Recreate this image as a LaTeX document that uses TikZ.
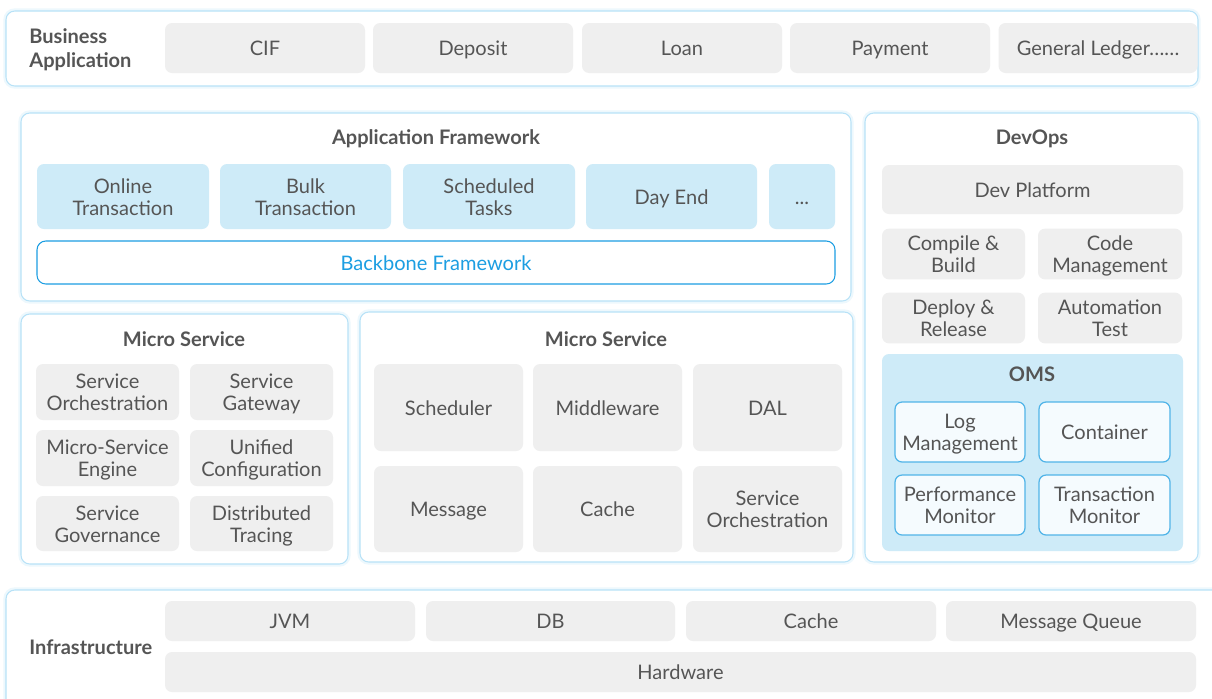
\documentclass[tikz,border=0pt]{standalone}
\usepackage{fontspec}
\setmainfont{Lato}
\definecolor{txtgray}{RGB}{85,85,85}
\definecolor{cellgray}{RGB}{239,239,239}
\definecolor{frameblue}{RGB}{184,226,247}
\definecolor{cellblue}{RGB}{206,235,248}
\definecolor{accentblue}{RGB}{28,158,226}
\definecolor{omsline}{RGB}{80,180,232}
\definecolor{omsfill}{RGB}{245,251,254}
\usetikzlibrary{positioning}

\begin{document}
\begin{tikzpicture}[x=0.02cm, y=-0.02cm,
  every node/.style={font=\fontsize{11.4}{12.6}\selectfont, text=txtgray, align=center, inner sep=0pt,
    execute at begin node={\rule{0pt}{12.5pt}}, execute at end node=\strut},
  twoline/.style={execute at begin node={\rule{0pt}{#1}}},
  twoline/.default=25.1pt,
  sz/.style 2 args={minimum width=#1*0.02cm, minimum height=#2*0.02cm},
  layer/.style={draw=frameblue, fill=white, rounded corners=5pt, line width=0.6pt,
    preaction={draw=frameblue!25, line width=3pt}},
  cell/.style={fill=cellgray, rounded corners=4pt},
  bluecell/.style={fill=cellblue, rounded corners=4pt},
  omscell/.style={draw=omsline, fill=omsfill, rounded corners=4pt, line width=0.7pt},
  title/.style={font=\fontsize{11.4}{14}\selectfont\bfseries}]
  \useasboundingbox[fill=white] (0,0) rectangle (1212,698);

  % Business application layer
  \node[layer, sz={1192}{75}] (bizlayer) at (602,48.5) {};
  \node[title, twoline=26.5pt, anchor=west, align=left] (bizlabel) at (29,48) {Business\\Application};
  \node[cell, sz={200}{50}] (cif) at (265,48) {CIF};
  \node[cell, sz={200}{50}] (deposit) at (473,48) {Deposit};
  \node[cell, sz={200}{50}] (loan) at (682,48) {Loan};
  \node[cell, sz={200}{50}] (payment) at (890,48) {Payment};
  \node[cell, sz={199}{50}] (ledger) at (1098,48) {General Ledger……};

  % Application framework
  \node[layer, sz={830}{188}] (appframe) at (436,207) {};
  \node[title] (apptitle) at (436,137) {Application Framework};
  \node[bluecell, twoline, sz={172}{65}] (online) at (123,196.5) {Online\\Transaction};
  \node[bluecell, twoline, sz={171}{65}] (bulk) at (305.5,196.5) {Bulk\\Transaction};
  \node[bluecell, twoline, sz={172}{65}] (sched) at (489,196.5) {Scheduled\\Tasks};
  \node[bluecell, sz={171}{65}] (dayend) at (671.5,196.5) {Day End};
  \node[bluecell, sz={66}{65}] (more) at (802,196.5) {...};
  \node[draw=accentblue, fill=white, rounded corners=5pt, line width=0.6pt, text=accentblue,
    sz={798}{43}] (backbone) at (436,262.5) {Backbone Framework};

  % Micro service (left)
  \node[layer, sz={327}{250}] (msleft) at (184.5,439) {};
  \node[title] (msltitle) at (184,339) {Micro Service};
  \node[cell, twoline, sz={143}{56}] (orch) at (107.5,392) {Service\\Orchestration};
  \node[cell, twoline, sz={143}{56}] (gateway) at (261.5,392) {Service\\Gateway};
  \node[cell, twoline, sz={143}{56}] (engine) at (107.5,458) {Micro-Service\\Engine};
  \node[cell, twoline, sz={143}{56}] (config) at (261.5,458) {Unified\\Configuration};
  \node[cell, twoline, sz={143}{55}] (govern) at (107.5,523.5) {Service\\Governance};
  \node[cell, twoline, sz={143}{55}] (tracing) at (261.5,523.5) {Distributed\\Tracing};

  % Micro service (right)
  \node[layer, sz={493}{250}] (msright) at (606.5,437) {};
  \node[title] (msrtitle) at (606,339) {Micro Service};
  \node[cell, sz={149}{87}] (scheduler) at (448.5,407.5) {Scheduler};
  \node[cell, sz={149}{87}] (middleware) at (607.5,407.5) {Middleware};
  \node[cell, sz={149}{87}] (dal) at (767.5,407.5) {DAL};
  \node[cell, sz={149}{86}] (message) at (448.5,509) {Message};
  \node[cell, sz={149}{86}] (cache) at (607.5,509) {Cache};
  \node[cell, twoline, sz={149}{86}] (orch2) at (767.5,509) {Service\\Orchestration};

  % DevOps
  \node[layer, sz={333}{449}] (devops) at (1031.5,337.5) {};
  \node[title] (devtitle) at (1032,137) {DevOps};
  \node[cell, sz={301}{49}] (devplat) at (1032.5,189.5) {Dev Platform};
  \node[cell, twoline, sz={143}{48}] (compile) at (953.5,254) {Compile \&\\Build};
  \node[cell, twoline, sz={144}{48}] (codemgmt) at (1110,254) {Code\\Management};
  \node[cell, twoline, sz={143}{48}] (deploy) at (953.5,318) {Deploy \&\\Release};
  \node[cell, twoline, sz={144}{48}] (autotest) at (1110,318) {Automation\\Test};

  % OMS
  \node[bluecell, sz={301}{197}] (oms) at (1032.5,452.5) {};
  \node[title] (omstitle) at (1032,374) {OMS};
  \node[omscell, twoline, sz={130}{60}] (logmgmt) at (960,432) {Log\\Management};
  \node[omscell, sz={131}{60}] (container) at (1104.5,432) {Container};
  \node[omscell, twoline, sz={130}{60}] (perfmon) at (960,505) {Performance\\Monitor};
  \node[omscell, twoline, sz={131}{60}] (txmon) at (1104.5,505) {Transaction\\Monitor};

  % Infrastructure
  \node[layer, sz={1224}{130}] (infra) at (618,655) {};
  \node[title, anchor=west] (infralabel) at (29,647) {Infrastructure};
  \node[cell, sz={250}{40}] (jvm) at (290,621) {JVM};
  \node[cell, sz={249}{40}] (db) at (550.5,621) {DB};
  \node[cell, sz={250}{40}] (infracache) at (811,621) {Cache};
  \node[cell, sz={250}{40}] (mq) at (1071,621) {Message Queue};
  \node[cell, sz={1031}{40}] (hardware) at (680.5,672) {Hardware};
\end{tikzpicture}
\end{document}
